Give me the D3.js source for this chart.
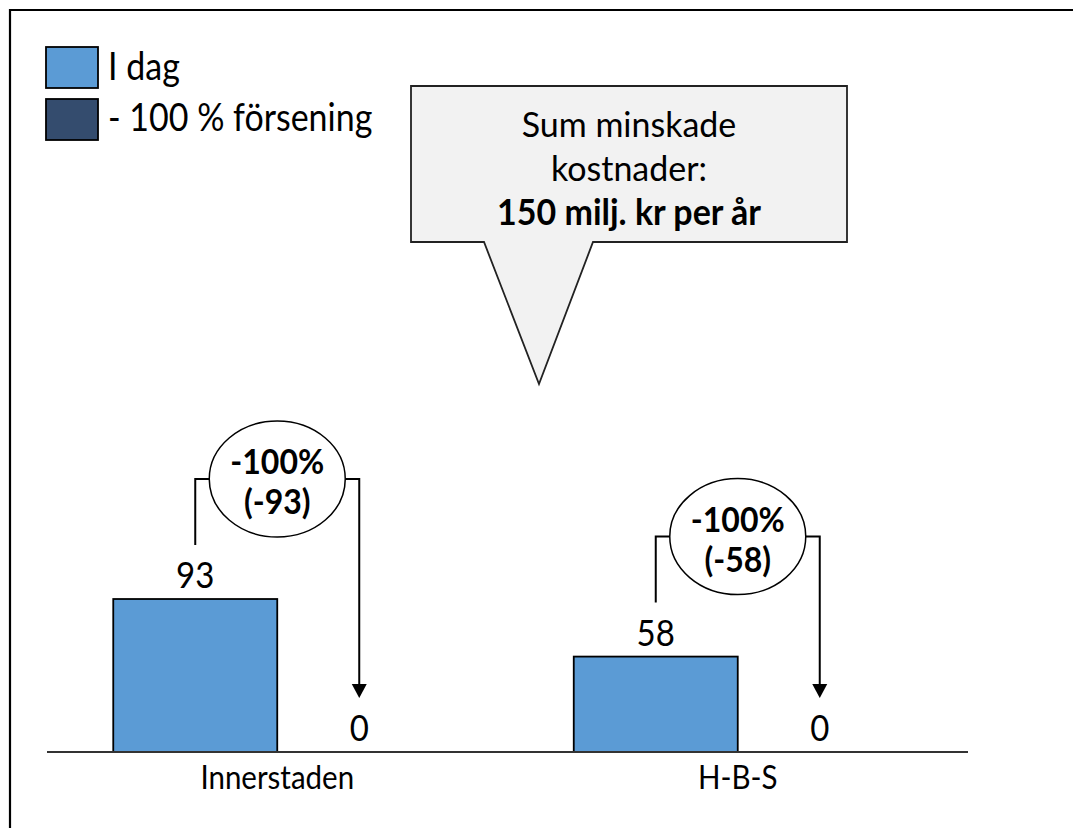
<!DOCTYPE html>
<html>
<head>
<meta charset="utf-8">
<script src="https://cdn.jsdelivr.net/npm/d3@7"></script>
<style>
  html, body { margin: 0; padding: 0; background: #fff; }
  svg { display: block; }
  text { font-family: Lato, "Noto Sans", sans-serif; fill: #000; }
</style>
</head>
<body>
<svg id="chart" width="1073" height="828"></svg>
<script>
// Kostnader per område (milj. kr per år)
const categories = ["Innerstaden", "H-B-S"];
const seriesNames = ["I dag", "- 100 % försening"];
const todayValues = [93, 58];
const delayedValues = [0, 0];
const seriesColors = ["#5b9bd5", "#344c6e"];
const calloutLines = ["Sum minskade", "kostnader:", "150 milj. kr per år"];

const svg = d3.select("#chart");
const W = 1073, H = 828;
const STRETCH = 1.14; // slightly tall lettering

function label(parent, x, y, str, size, opts = {}) {
  const s = opts.stretch || STRETCH;
  return parent.append("text")
    .attr("transform", `translate(${x},${y}) scale(1,${s})`)
    .attr("text-anchor", opts.anchor || "middle")
    .attr("font-size", size)
    .attr("font-weight", opts.bold ? "bold" : "normal")
    .text(str);
}

// Frame (top and left edges)
svg.append("path")
  .attr("d", `M10,${H} L10,10 L${W},10`)
  .attr("fill", "none").attr("stroke", "#000").attr("stroke-width", 2.2);

const baseY = 752;
const x0 = d3.scaleBand().domain(categories).range([47, 968]).padding(0);
const x1 = d3.scaleBand().domain(seriesNames)
  .range([0, x0.bandwidth()]).paddingInner(0).paddingOuter(0.404);
const y = d3.scaleLinear().domain([0, 100]).range([baseY, baseY - 164.5]);

const rows = categories.map((c, i) => ({
  cat: c,
  vals: [todayValues[i], delayedValues[i]]
}));

// Bars and value labels
const g = svg.append("g");
rows.forEach(r => {
  r.vals.forEach((v, j) => {
    const bx = x0(r.cat) + x1(seriesNames[j]);
    const h = y(0) - y(v);
    if (h > 0) {
      g.append("rect")
        .attr("x", bx).attr("y", y(v))
        .attr("width", x1.bandwidth()).attr("height", h)
        .attr("fill", seriesColors[j])
        .attr("stroke", "#000").attr("stroke-width", 1.8);
    }
    label(g, bx + x1.bandwidth() / 2, y(v) - 11, v, 33);
  });
});

// Baseline
svg.append("line")
  .attr("x1", 47).attr("x2", 968).attr("y1", baseY).attr("y2", baseY)
  .attr("stroke", "#333").attr("stroke-width", 2);

// Category labels
categories.forEach(c => {
  label(svg, x0(c) + x0.bandwidth() / 2, 789, c, 29.5);
});

// Change connectors with ellipse labels
rows.forEach(r => {
  const a = r.vals[0], b = r.vals[1];
  const xa = x0(r.cat) + x1(seriesNames[0]) + x1.bandwidth() / 2;
  const xb = x0(r.cat) + x1(seriesNames[1]) + x1.bandwidth() / 2;
  const cx = x0(r.cat) + x0.bandwidth() / 2;
  const top = Math.min(y(a), y(b)) - 120;
  const rx = 68, ry = 58;
  const tipY = y(b) - 54;

  svg.append("path")
    .attr("d", `M${xa},${y(a) - 54} L${xa},${top} L${cx - rx},${top}`)
    .attr("fill", "none").attr("stroke", "#000").attr("stroke-width", 2);
  svg.append("path")
    .attr("d", `M${cx + rx},${top} L${xb},${top} L${xb},${tipY - 12}`)
    .attr("fill", "none").attr("stroke", "#000").attr("stroke-width", 2);
  svg.append("path")
    .attr("d", `M${xb - 7.5},${tipY - 14} L${xb + 7.5},${tipY - 14} L${xb},${tipY} Z`)
    .attr("fill", "#000");

  svg.append("ellipse")
    .attr("cx", cx).attr("cy", top).attr("rx", rx).attr("ry", ry)
    .attr("fill", "#fff").attr("stroke", "#000").attr("stroke-width", 1.5);

  const pct = Math.round((b - a) / a * 100) + "%";
  const diff = "(" + (b - a) + ")";
  label(svg, cx, top - 5, pct, 32, { bold: true, stretch: 1.08 });
  label(svg, cx, top + 35, diff, 32, { bold: true, stretch: 1.08 });
});

// Callout
svg.append("path")
  .attr("d", "M411,86 L847,86 L847,242 L593,242 L539,384 L484,242 L411,242 Z")
  .attr("fill", "#f2f2f2").attr("stroke", "#222").attr("stroke-width", 1.8);
const calloutY = [137, 181, 225];
calloutLines.forEach((t, i) => {
  label(svg, 629, calloutY[i], t, 34, { bold: i === 2, stretch: 1.04 });
});

// Legend
const legend = svg.append("g");
seriesNames.forEach((s, i) => {
  legend.append("rect")
    .attr("x", 46).attr("y", 47 + i * 52)
    .attr("width", 52).attr("height", 41)
    .attr("fill", seriesColors[i]).attr("stroke", "#000").attr("stroke-width", 1.8);
  label(legend, 108, 80 + i * 51, s, 34, { anchor: "start" });
});
</script>
</body>
</html>
